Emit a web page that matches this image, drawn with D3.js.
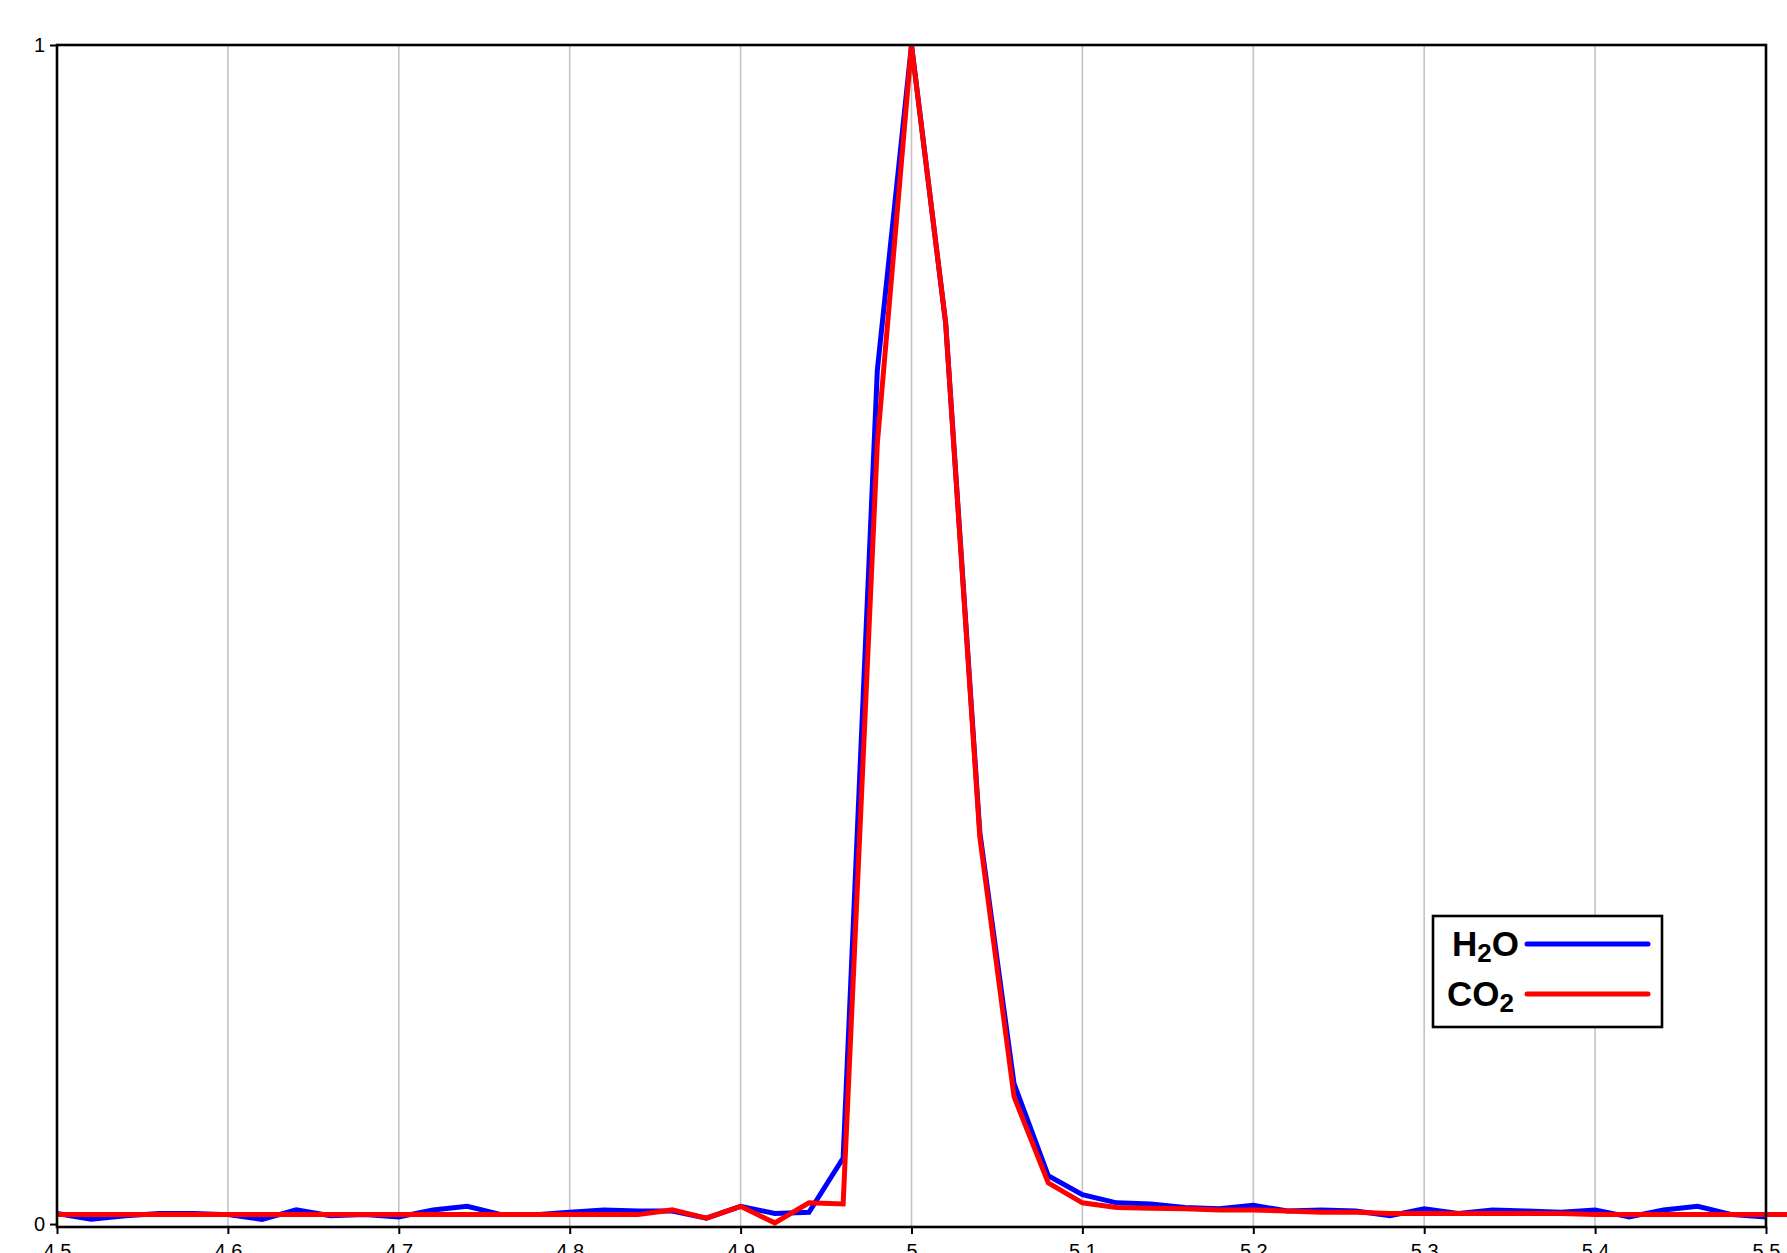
<!DOCTYPE html>
<html>
<head>
<meta charset="utf-8">
<script src="https://cdn.jsdelivr.net/npm/d3@7"></script>
<style>
  body { margin: 0; background: #fff; }
  svg { display: block; }
</style>
</head>
<body>
<script>
// data
const xValues = [4.5, 4.52, 4.54, 4.56, 4.58, 4.6, 4.62, 4.64, 4.66, 4.68,
  4.7, 4.72, 4.74, 4.76, 4.78, 4.8, 4.82, 4.84, 4.86, 4.88,
  4.9, 4.92, 4.94, 4.96, 4.98, 5.0, 5.02, 5.04, 5.06, 5.08,
  5.1, 5.12, 5.14, 5.16, 5.18, 5.2, 5.22, 5.24, 5.26, 5.28,
  5.3, 5.32, 5.34, 5.36, 5.38, 5.4, 5.42, 5.44, 5.46, 5.48, 5.5, 5.52];

const h2o = [0.009, 0.004, 0.007, 0.009, 0.009, 0.008, 0.004, 0.012, 0.007, 0.008,
  0.006, 0.012, 0.015, 0.008, 0.008, 0.01, 0.012, 0.011, 0.011, 0.005,
  0.015, 0.009, 0.01, 0.056, 0.724, 1.0, 0.764, 0.332, 0.119, 0.041,
  0.025, 0.018, 0.017, 0.014, 0.013, 0.016, 0.011, 0.012, 0.011, 0.007,
  0.013, 0.009, 0.012, 0.011, 0.01, 0.012, 0.006, 0.012, 0.015, 0.008, 0.006];

const co2 = [0.008, 0.008, 0.008, 0.008, 0.008, 0.008, 0.008, 0.008, 0.008, 0.008,
  0.008, 0.008, 0.008, 0.008, 0.008, 0.008, 0.008, 0.008, 0.012, 0.005,
  0.015, 0.001, 0.018, 0.017, 0.662, 1.0, 0.764, 0.328, 0.108, 0.035,
  0.018, 0.014, 0.0135, 0.013, 0.012, 0.012, 0.011, 0.01, 0.01, 0.009,
  0.009, 0.009, 0.009, 0.009, 0.009, 0.008, 0.008, 0.008, 0.008, 0.008, 0.008, 0.008];

const xTicks = [4.5, 4.6, 4.7, 4.8, 4.9, 5, 5.1, 5.2, 5.3, 5.4, 5.5];
const yTicks = [0, 1];
const seriesNames = ["H2O", "CO2"];
const seriesColors = ["#0000ff", "#ff0000"];

// set the dimensions and margins of the graph
const W = 1787, H = 1253;
const margin = {top: 45, right: 21, bottom: 26, left: 57},
    width = W - margin.left - margin.right,
    height = H - margin.top - margin.bottom;

const svg = d3.select("body")
  .append("svg")
  .attr("width", W)
  .attr("height", H)
  .append("g")
  .attr("transform", `translate(${margin.left}, ${margin.top})`);

const x = d3.scaleLinear().domain([4.5, 5.5]).range([0, width]);
const y = d3.scaleLinear().domain([-0.0025, 1]).range([height, 0]);

// vertical grid
svg.append("g")
  .selectAll("line")
  .data(xTicks.slice(1, -1))
  .join("line")
  .attr("x1", d => x(d)).attr("x2", d => x(d))
  .attr("y1", 0).attr("y2", height)
  .attr("stroke", "#c4c4c4")
  .attr("stroke-width", 1.6);

// axes
const xAxis = svg.append("g")
  .attr("transform", `translate(0, ${height})`)
  .call(d3.axisBottom(x).tickValues(xTicks).tickFormat(d3.format("")).tickSize(7).tickPadding(10));
const yAxis = svg.append("g")
  .call(d3.axisLeft(y).tickValues(yTicks).tickFormat(d3.format("")).tickSize(7).tickPadding(5));

[xAxis, yAxis].forEach(a => {
  a.select(".domain").remove();
  a.selectAll("line").attr("stroke", "#000").attr("stroke-width", 2);
  a.selectAll("text")
    .attr("fill", "#000")
    .style("font-family", "'Liberation Sans', Arial, sans-serif")
    .style("font-size", "20px");
});

// lines
const line = d3.line()
  .x((d, i) => x(xValues[i]))
  .y(d => y(d));

[h2o, co2].forEach((s, i) => {
  svg.append("path")
    .datum(s)
    .attr("fill", "none")
    .attr("stroke", seriesColors[i])
    .attr("stroke-width", 5)
    .attr("d", line);
});

// frame
svg.append("rect")
  .attr("x", 0).attr("y", 0)
  .attr("width", width).attr("height", height)
  .attr("fill", "none")
  .attr("stroke", "#000")
  .attr("stroke-width", 2.6);

// legend
const lg = svg.append("g")
  .attr("transform", `translate(${1433 - margin.left}, ${916 - margin.top})`);
lg.append("rect")
  .attr("width", 229).attr("height", 111)
  .attr("fill", "#fff")
  .attr("stroke", "#000")
  .attr("stroke-width", 2.6);

const rows = lg.selectAll(".row")
  .data(seriesNames)
  .join("g")
  .attr("transform", (d, i) => `translate(0, ${28 + i * 50})`);

rows.append("line")
  .attr("x1", 94).attr("x2", 215)
  .attr("y1", 0).attr("y2", 0)
  .attr("stroke", (d, i) => seriesColors[i])
  .attr("stroke-width", 5)
  .attr("stroke-linecap", "round");

const lt = rows.append("text")
  .attr("x", (d, i) => i === 0 ? 86 : 81)
  .attr("y", 12)
  .attr("text-anchor", "end")
  .style("font-family", "'Liberation Sans', Arial, sans-serif")
  .style("font-weight", "bold")
  .style("font-size", "35px");

lt.each(function(d) {
  const t = d3.select(this);
  const parts = d.match(/[A-Z]+|\d+/g);
  let shifted = false;
  parts.forEach(p => {
    if (/\d/.test(p)) {
      t.append("tspan").attr("dy", 6).style("font-size", "26px").text(p);
      shifted = true;
    } else {
      t.append("tspan").attr("dy", shifted ? -6 : 0).text(p);
      shifted = false;
    }
  });
});
</script>
</body>
</html>
